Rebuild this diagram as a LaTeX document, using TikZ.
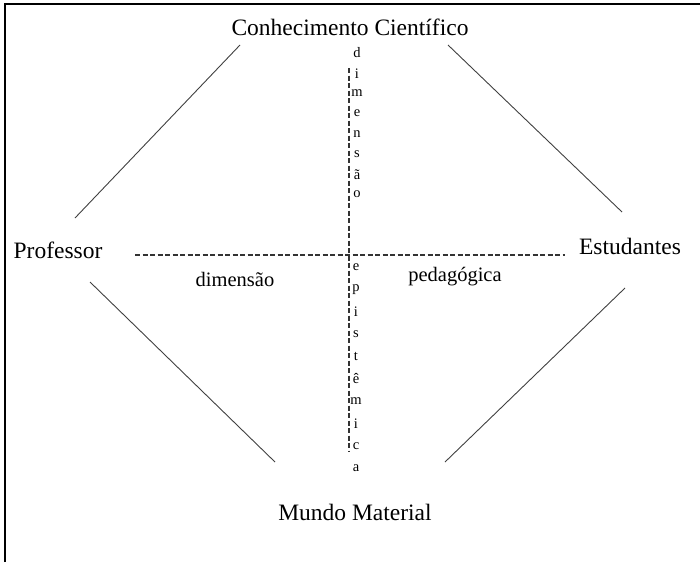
\documentclass[tikz,border=0pt]{standalone}
\usepackage{fontspec}
\setmainfont{Liberation Serif}
\begin{document}
\begin{tikzpicture}[x=1pt,y=-1pt,
  lbl/.style={inner sep=0pt,font=\fontsize{23.5}{25}\selectfont},
  small/.style={inner sep=0pt,font=\fontsize{20.5}{22}\selectfont},
  vl/.style={inner sep=0pt,font=\fontsize{14.5}{16}\selectfont},
  edge/.style={line width=0.9pt,black!75},
  dline/.style={line width=1.2pt,black!80,dash pattern=on 5pt off 2.5pt}]
\useasboundingbox (0,0) rectangle (700,562);
\draw[line width=2pt] (5,562) -- (5,4) -- (700,4);
% labels
\node[lbl] (cc) at (350,27) {Conhecimento Científico};
\node[lbl] (pr) at (58,250) {Professor};
\node[lbl] (es) at (630,246) {Estudantes};
\node[lbl] (mm) at (355,512) {Mundo Material};
\node[small] (dim) at (235,279) {dimensão};
\node[small] (ped) at (455,277) {pedagógica};
% diagonal edges
\coordinate (a1) at (75,218); \coordinate (a2) at (240,45);
\coordinate (b1) at (448,45); \coordinate (b2) at (622,212);
\coordinate (c1) at (90,282); \coordinate (c2) at (275,462);
\coordinate (d1) at (445,462); \coordinate (d2) at (625,288);
\draw[edge] (a1) -- (a2);
\draw[edge] (b1) -- (b2);
\draw[edge] (c1) -- (c2);
\draw[edge] (d1) -- (d2);
% dashed axes
\coordinate (h1) at (135,255); \coordinate (h2) at (565,255);
\coordinate (v1) at (349,68); \coordinate (v2) at (349,452);
\draw[dline] (h1) -- (h2);
\draw[dline] (v1) -- (v2);
% vertical letters
\foreach \ch [count=\i from 0] in {d,i,m,e,n,s,ã,o}
  \node[vl] (u\i) at (357,{53+\i*20.2}) {\ch};
\foreach \ch [count=\i from 0] in {e,p,i,s,t,ê,m,i,c,a}
  \node[vl] (w\i) at (356,{267+\i*22.4}) {\ch};
\end{tikzpicture}
\end{document}
